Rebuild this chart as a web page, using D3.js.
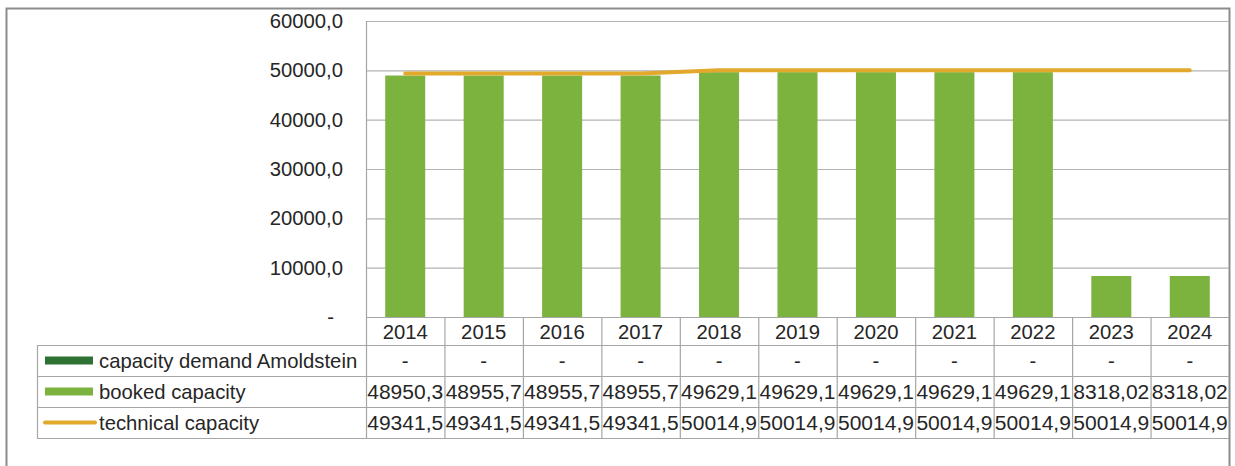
<!DOCTYPE html>
<html>
<head>
<meta charset="utf-8">
<script src="https://cdn.jsdelivr.net/npm/d3@7"></script>
<style>
  body { margin: 0; background: #fff; }
  text { font-family: "Liberation Sans", Arial, sans-serif; fill: #262626; }
</style>
</head>
<body>
<div id="chart"></div>
<script>
// chart values
const years = ["2014", "2015", "2016", "2017", "2018", "2019", "2020", "2021", "2022", "2023", "2024"];
const demand = [null, null, null, null, null, null, null, null, null, null, null];
const booked = [48950.3, 48955.7, 48955.7, 48955.7, 49629.1, 49629.1, 49629.1, 49629.1, 49629.1, 8318.02, 8318.02];
const technical = [49341.5, 49341.5, 49341.5, 49341.5, 50014.9, 50014.9, 50014.9, 50014.9, 50014.9, 50014.9, 50014.9];
const yTicks = [0, 10000, 20000, 30000, 40000, 50000, 60000];
const seriesNames = ["capacity demand Amoldstein", "booked capacity", "technical capacity"];

const width = 1235, height = 466;
const plotLeft = 366, plotRight = 1229, plotTop = 21, plotBottom = 317;
const rowH = 31, headerBottom = 345, legendLeft = 37;
const fontSize = 20.3;

const svg = d3.select("#chart")
    .append("svg")
    .attr("width", width)
    .attr("height", height);

// outer frame
svg.append("rect")
    .attr("x", 6.5).attr("y", 8.5)
    .attr("width", 1223).attr("height", 480)
    .attr("fill", "none")
    .attr("stroke", "#8c8c8c")
    .attr("stroke-width", 2);

const x = d3.scaleBand()
    .domain(years)
    .range([plotLeft, plotRight])
    .paddingInner(0)
    .paddingOuter(0);

const y = d3.scaleLinear()
    .domain([0, 60000])
    .range([plotBottom, plotTop]);

const fmt = v => v === 0 ? "-" : d3.format(".1f")(v).replace(".", ",");
const cellFmt = v => v == null ? "-" : String(v).replace(".", ",");

// gridlines + y labels
const yAxis = d3.axisLeft(y)
    .tickValues(yTicks)
    .tickSize(-(plotRight - plotLeft))
    .tickPadding(23)
    .tickFormat(fmt);

const gy = svg.append("g")
    .attr("transform", "translate(" + plotLeft + ",0)")
    .call(yAxis);
gy.select(".domain").remove();
gy.selectAll(".tick line")
    .attr("stroke", "#b3b3b3")
    .attr("stroke-width", 1.2);
gy.selectAll(".tick text")
    .style("font-size", fontSize + "px")
    .attr("fill", "#262626")
    .attr("dx", d => d === 0 ? -9 : 0);

// plot area left border
svg.append("line")
    .attr("x1", plotLeft + 0.5).attr("x2", plotLeft + 0.5)
    .attr("y1", plotTop).attr("y2", plotBottom)
    .attr("stroke", "#a6a6a6").attr("stroke-width", 1.2);

// bars
const barW = x.bandwidth() * 0.51;
svg.selectAll("rect.bar")
    .data(booked)
    .join("rect")
    .classed("bar", true)
    .attr("x", (d, i) => x(years[i]) + (x.bandwidth() - barW) / 2)
    .attr("y", d => y(d))
    .attr("width", barW)
    .attr("height", d => y(0) - y(d))
    .attr("fill", "#7cb23e");

// technical capacity line
const line = d3.line()
    .x((d, i) => x(years[i]) + x.bandwidth() / 2)
    .y(d => y(d));
svg.append("path")
    .datum(technical)
    .attr("d", line)
    .attr("fill", "none")
    .attr("stroke", "#e2a92c")
    .attr("stroke-width", 4)
    .attr("stroke-linecap", "round");

// data table
const tbl = svg.append("g");
const gridColor = "#a6a6a6";
const tableBottom = headerBottom + rowH * 3;

// horizontal lines
tbl.append("line")
    .attr("x1", plotLeft).attr("x2", plotRight)
    .attr("y1", plotBottom + 0.5).attr("y2", plotBottom + 0.5)
    .attr("stroke", gridColor).attr("stroke-width", 1.2);
[0, 1, 2, 3].forEach(k => {
    tbl.append("line")
        .attr("x1", legendLeft).attr("x2", plotRight)
        .attr("y1", headerBottom + k * rowH + 0.5).attr("y2", headerBottom + k * rowH + 0.5)
        .attr("stroke", gridColor).attr("stroke-width", 1.2);
});
// vertical lines
tbl.append("line")
    .attr("x1", legendLeft + 0.5).attr("x2", legendLeft + 0.5)
    .attr("y1", headerBottom).attr("y2", tableBottom)
    .attr("stroke", gridColor).attr("stroke-width", 1.2);
years.forEach(yr => {
    tbl.append("line")
        .attr("x1", x(yr) + 0.5).attr("x2", x(yr) + 0.5)
        .attr("y1", plotBottom).attr("y2", tableBottom)
        .attr("stroke", gridColor).attr("stroke-width", 1.2);
});

// year header
tbl.selectAll("text.year")
    .data(years)
    .join("text")
    .classed("year", true)
    .attr("x", d => x(d) + x.bandwidth() / 2)
    .attr("y", (plotBottom + headerBottom) / 2 + 1)
    .attr("dy", "0.35em")
    .attr("text-anchor", "middle")
    .style("font-size", fontSize + "px")
    .text(d => d);

// value rows
[demand, booked, technical].forEach((row, r) => {
    tbl.selectAll("text.row" + r)
        .data(row)
        .join("text")
        .attr("class", "row" + r)
        .attr("x", (d, i) => x(years[i]) + x.bandwidth() / 2)
        .attr("y", headerBottom + r * rowH + rowH / 2)
        .attr("dy", "0.35em")
        .attr("text-anchor", "middle")
        .attr("textLength", d => d == null ? null : 76)
        .attr("lengthAdjust", "spacingAndGlyphs")
        .style("font-size", fontSize + "px")
        .text(d => cellFmt(d));
});

// legend keys
const keyX1 = 45, keyX2 = 93;
const rowMid = r => headerBottom + r * rowH + rowH / 2;
tbl.append("rect")
    .attr("x", keyX1).attr("y", rowMid(0) - 4)
    .attr("width", keyX2 - keyX1).attr("height", 8)
    .attr("fill", "#2e7233");
tbl.append("rect")
    .attr("x", keyX1).attr("y", rowMid(1) - 4)
    .attr("width", keyX2 - keyX1).attr("height", 8)
    .attr("fill", "#7cb23e");
tbl.append("line")
    .attr("x1", keyX1).attr("x2", keyX2 + 2)
    .attr("y1", rowMid(2)).attr("y2", rowMid(2))
    .attr("stroke", "#e2a92c").attr("stroke-width", 4)
    .attr("stroke-linecap", "round");

tbl.selectAll("text.legend")
    .data(seriesNames)
    .join("text")
    .classed("legend", true)
    .attr("x", 99)
    .attr("y", (d, i) => rowMid(i))
    .attr("dy", "0.35em")
    .style("font-size", fontSize + "px")
    .text(d => d);
</script>
</body>
</html>
